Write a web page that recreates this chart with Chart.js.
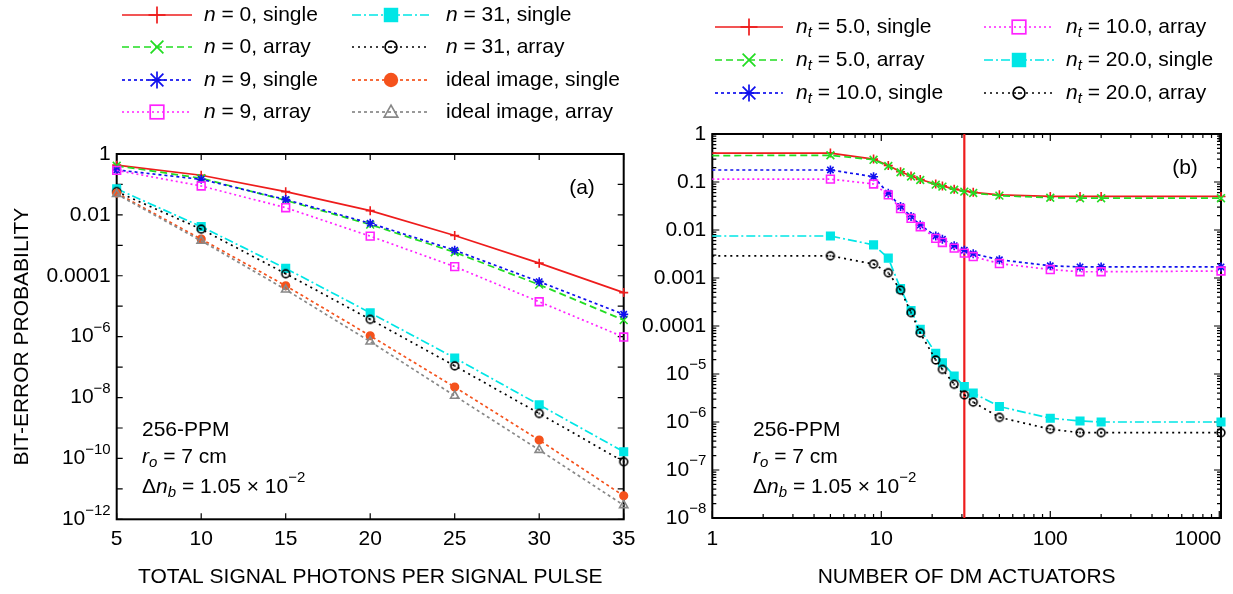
<!DOCTYPE html>
<html>
<head>
<meta charset="utf-8">
<script src="https://cdn.jsdelivr.net/npm/chart.js@4.4.1/dist/chart.umd.min.js"></script>
<style>
  body { margin: 0; background: #fff; }
  #wrap { position: relative; width: 1233px; height: 594px; }
  canvas { position: absolute; top: 0; }
</style>
</head>
<body>
<div id="wrap">
  <canvas id="left" width="640" height="594" style="left:0"></canvas>
  <canvas id="right" width="593" height="594" style="left:640px"></canvas>
</div>
<script>
// ---- data, panel (a): photons per pulse ----
const PHOTONS = [5, 10, 15, 20, 25, 30, 35];
const n0Single    = [0.43, 0.20, 0.058, 0.0138, 0.0021, 2.6e-4, 2.8e-5];
const n0Array     = [0.41, 0.16, 0.030, 0.0048, 5.9e-4, 5.1e-5, 3.5e-6];
const n9Single    = [0.30, 0.147, 0.032, 0.0053, 6.9e-4, 6.4e-5, 5.4e-6];
const n9Array     = [0.29, 0.089, 0.0172, 0.0020, 2.0e-4, 1.4e-5, 9.7e-7];
const n31Single   = [0.072, 0.0041, 1.75e-4, 6.1e-6, 2.0e-7, 5.8e-9, 1.66e-10];
const n31Array    = [0.058, 0.0034, 1.17e-4, 3.7e-6, 1.1e-7, 3.0e-9, 7.8e-11];
const idealSingle = [0.052, 0.0016, 4.7e-5, 1.07e-6, 2.2e-8, 4.0e-10, 5.9e-12];
const idealArray  = [0.048, 0.0014, 3.5e-5, 6.9e-7, 1.14e-8, 1.9e-10, 2.9e-12];

// ---- data, panel (b): number of DM actuators ----
const ACTUATORS = [1, 5, 9, 11, 13, 15, 17, 21, 23, 27, 31, 35, 50, 100, 150, 200, 1024];
const nt5Single  = [0.40, 0.40, 0.30, 0.22, 0.164, 0.133, 0.113, 0.091, 0.083, 0.071, 0.065, 0.061, 0.054, 0.050, 0.050, 0.050, 0.050];
const nt5Array   = [0.355, 0.36, 0.29, 0.215, 0.16, 0.13, 0.11, 0.088, 0.080, 0.069, 0.063, 0.059, 0.052, 0.047, 0.046, 0.046, 0.046];
const nt10Single = [0.178, 0.178, 0.129, 0.058, 0.031, 0.019, 0.0127, 0.0075, 0.0064, 0.0047, 0.0038, 0.0032, 0.0024, 0.0018, 0.0017, 0.0017, 0.0017];
const nt10Array  = [0.115, 0.115, 0.091, 0.054, 0.028, 0.0175, 0.0117, 0.0067, 0.0055, 0.0042, 0.0033, 0.0028, 0.0020, 0.0015, 0.00135, 0.00135, 0.0014];
const nt20Single = [0.0075, 0.0075, 0.0049, 0.0026, 6.0e-4, 2.1e-4, 8.5e-5, 2.7e-5, 1.72e-5, 9.1e-6, 5.5e-6, 4.0e-6, 2.1e-6, 1.2e-6, 1.05e-6, 1.0e-6, 1.0e-6];
const nt20Array  = [0.0029, 0.0029, 0.00195, 0.00129, 5.6e-4, 1.9e-4, 7.2e-5, 1.96e-5, 1.25e-5, 6.1e-6, 3.67e-6, 2.6e-6, 1.25e-6, 7.1e-7, 6.0e-7, 6.0e-7, 6.0e-7];
const MARK_X = 31; // vertical red line

// ---- ticks ----
const LEFT_X_TICKS = [5, 10, 15, 20, 25, 30, 35];
const LEFT_Y_TICKS = [1, 1e-2, 1e-4, 1e-6, 1e-8, 1e-10, 1e-12];
const LEFT_Y_LABELS = ['1', '0.01', '0.0001', '10^−6', '10^−8', '10^−10', '10^−12'];
const RIGHT_X_TICKS = [1, 10, 100, 1000];
const RIGHT_X_LABELS = ['1', '10', '100', '1000'];
const RIGHT_Y_TICKS = [1, 0.1, 0.01, 1e-3, 1e-4, 1e-5, 1e-6, 1e-7, 1e-8];
const RIGHT_Y_LABELS = ['1', '0.1', '0.01', '0.001', '0.0001', '10^−5', '10^−6', '10^−7', '10^−8'];

const FONT = "'Liberation Sans', Arial, Helvetica, sans-serif";
const FS = 21;

// line / marker styles
const ST = {
  red:     { color: '#ee1c1c', dash: [],           marker: 'plus' },
  green:   { color: '#22dd22', dash: [7, 4],       marker: 'x' },
  blue:    { color: '#1010ee', dash: [3, 3],       marker: 'star' },
  magenta: { color: '#ff22ff', dash: [2, 3],       marker: 'box' },
  cyan:    { color: '#00e6e6', dash: [9, 3, 2, 3], marker: 'boxf' },
  black:   { color: '#000000', dash: [2, 4],       marker: 'odot' },
  orange:  { color: '#f5521c', dash: [3, 3],       marker: 'dot' },
  gray:    { color: '#888888', dash: [3, 3],       marker: 'tri' }
};

function odotImage(color) {
  const c = document.createElement('canvas');
  c.width = 12; c.height = 12;
  const g = c.getContext('2d');
  g.strokeStyle = color; g.fillStyle = color; g.lineWidth = 1.6;
  g.beginPath(); g.arc(6, 6, 3.9, 0, Math.PI * 2); g.stroke();
  g.beginPath(); g.arc(6, 6, 0.9, 0, Math.PI * 2); g.fill();
  return c;
}

function pointOpts(st) {
  const m = st.marker;
  if (m === 'plus') return { pointStyle: 'cross', pointRadius: 4.5, pointBackgroundColor: st.color };
  if (m === 'x') return { pointStyle: 'crossRot', pointRadius: 5.5, pointBackgroundColor: st.color };
  if (m === 'star') return { pointStyle: 'star', pointRadius: 4.5, pointBackgroundColor: st.color };
  if (m === 'box') return { pointStyle: 'rect', pointRadius: 5.5, pointBackgroundColor: 'rgba(0,0,0,0)' };
  if (m === 'boxf') return { pointStyle: 'rect', pointRadius: 5.3, pointBackgroundColor: st.color };
  if (m === 'dot') return { pointStyle: 'circle', pointRadius: 3.8, pointBackgroundColor: st.color };
  if (m === 'tri') return { pointStyle: 'triangle', pointRadius: 4.8, pointBackgroundColor: 'rgba(0,0,0,0)' };
  return { pointStyle: odotImage(st.color), pointRadius: 4 };
}

function makeSet(xs, ys, st, idx, hideFirst) {
  const p = pointOpts(st);
  const r = p.pointRadius;
  return Object.assign({
    data: xs.map((x, i) => ({ x: x, y: ys[i] })),
    borderColor: st.color,
    borderWidth: 1.7,
    borderDash: st.dash,
    pointBorderColor: st.color,
    pointBorderWidth: 1.6,
    fill: false,
    tension: 0,
    clip: false,
    order: -idx
  }, p, { pointRadius: hideFirst ? (c => c.dataIndex === 0 ? 0 : r) : r });
}

// rich text: parts = [{t, i, s}] ; y is the middle line
function drawRich(ctx, x, y, parts, align, size) {
  size = size || FS;
  const small = Math.round(size * 0.7);
  ctx.save();
  ctx.textBaseline = 'middle';
  ctx.textAlign = 'left';
  ctx.fillStyle = '#000';
  const fontOf = p => (p.i ? 'italic ' : '') + (p.s ? small : size) + 'px ' + FONT;
  let total = 0;
  const ws = parts.map(p => { ctx.font = fontOf(p); const w = ctx.measureText(p.t).width; total += w; return w; });
  let cx = align === 'right' ? x - total : align === 'center' ? x - total / 2 : x;
  parts.forEach((p, k) => {
    ctx.font = fontOf(p);
    const dy = p.s === 'sub' ? size * 0.3 : p.s === 'sup' ? -size * 0.42 : 0;
    ctx.fillText(p.t, cx, y + dy);
    cx += ws[k];
  });
  ctx.restore();
}

function parseLabel(s) {
  const k = s.indexOf('^');
  if (k < 0) return [{ t: s }];
  return [{ t: s.slice(0, k) }, { t: s.slice(k + 1), s: 'sup' }];
}

function drawMarker(ctx, st, x, y, r) {
  ctx.save();
  ctx.setLineDash([]);
  ctx.strokeStyle = st.color; ctx.fillStyle = st.color; ctx.lineWidth = 1.7;
  const line = (a, b, c, d) => { ctx.beginPath(); ctx.moveTo(a, b); ctx.lineTo(c, d); ctx.stroke(); };
  const m = st.marker;
  if (m === 'plus' || m === 'star') { line(x - r, y, x + r, y); line(x, y - r, x, y + r); }
  if (m === 'x' || m === 'star') { const d = r * 0.75; line(x - d, y - d, x + d, y + d); line(x - d, y + d, x + d, y - d); }
  if (m === 'box') ctx.strokeRect(x - r * 0.8, y - r * 0.8, r * 1.6, r * 1.6);
  if (m === 'boxf') ctx.fillRect(x - r * 0.85, y - r * 0.85, r * 1.7, r * 1.7);
  if (m === 'dot') { ctx.beginPath(); ctx.arc(x, y, r * 0.85, 0, Math.PI * 2); ctx.fill(); }
  if (m === 'odot') {
    ctx.beginPath(); ctx.arc(x, y, r * 0.7, 0, Math.PI * 2); ctx.stroke();
    ctx.beginPath(); ctx.arc(x, y, 1.1, 0, Math.PI * 2); ctx.fill();
  }
  if (m === 'tri') {
    ctx.beginPath(); ctx.moveTo(x, y - r * 0.8); ctx.lineTo(x + r * 0.8, y + r * 0.6); ctx.lineTo(x - r * 0.8, y + r * 0.6); ctx.closePath(); ctx.stroke();
  }
  ctx.restore();
}

function drawLegend(ctx, items) {
  items.forEach(it => {
    ctx.save();
    ctx.strokeStyle = it.st.color; ctx.lineWidth = 1.7;
    ctx.setLineDash(it.st.dash);
    ctx.beginPath(); ctx.moveTo(it.x1, it.y); ctx.lineTo(it.x2, it.y); ctx.stroke();
    ctx.restore();
    drawMarker(ctx, it.st, (it.x1 + it.x2) / 2, it.y, 8.5);
    drawRich(ctx, it.tx, it.y, it.label, 'left');
  });
}

function decor(cfg) {
  return {
    id: 'decor',
    beforeDatasetsDraw(chart) {
      const ctx = chart.ctx, a = chart.chartArea;
      const sx = chart.scales.x, sy = chart.scales.y;
      ctx.save();
      ctx.strokeStyle = '#000';
      ctx.lineWidth = 1.2;
      cfg.xTicks().forEach(t => {
        const px = sx.getPixelForValue(t.v);
        ctx.beginPath();
        ctx.moveTo(px, a.bottom); ctx.lineTo(px, a.bottom - t.len);
        ctx.moveTo(px, a.top); ctx.lineTo(px, a.top + t.len);
        ctx.stroke();
      });
      cfg.yTicks().forEach(t => {
        const py = sy.getPixelForValue(t.v);
        ctx.beginPath();
        ctx.moveTo(a.left, py); ctx.lineTo(a.left + t.len, py);
        ctx.moveTo(a.right, py); ctx.lineTo(a.right - t.len, py);
        ctx.stroke();
      });
      ctx.lineWidth = 2;
      ctx.strokeRect(a.left, a.top, a.right - a.left, a.bottom - a.top);
      ctx.restore();
    },
    afterDraw(chart) {
      const ctx = chart.ctx, a = chart.chartArea;
      const sx = chart.scales.x, sy = chart.scales.y;
      const last = cfg.xLabels.length - 1;
      cfg.xLabels.forEach((s, i) => {
        const px = sx.getPixelForValue(cfg.xLabelVals[i]);
        // the last label would run off the canvas, keep it right-aligned on its tick
        if (cfg.lastRight && i === last) drawRich(ctx, px + 2, 539, parseLabel(s), 'right');
        else drawRich(ctx, px, 539, parseLabel(s), 'center');
      });
      cfg.yLabels.forEach((s, i) => drawRich(ctx, a.left - 6, sy.getPixelForValue(cfg.yLabelVals[i]), parseLabel(s), 'right'));
      drawRich(ctx, (a.left + a.right) / 2, 577, [{ t: cfg.xTitle }], 'center');
      if (cfg.yTitle) {
        ctx.save();
        ctx.translate(22, (a.top + a.bottom) / 2);
        ctx.rotate(-Math.PI / 2);
        drawRich(ctx, 0, 0, [{ t: cfg.yTitle }], 'center');
        ctx.restore();
      }
      drawRich(ctx, cfg.tag.x, cfg.tag.y, [{ t: cfg.tag.t }], 'center');
      const ax = cfg.noteX;
      drawRich(ctx, ax, 430, [{ t: '256-PPM' }], 'left');
      drawRich(ctx, ax, 457, [{ t: 'r', i: 1 }, { t: 'o', i: 1, s: 'sub' }, { t: ' = 7 cm' }], 'left');
      drawRich(ctx, ax, 487, [{ t: 'Δ' }, { t: 'n', i: 1 }, { t: 'b', i: 1, s: 'sub' }, { t: ' = 1.05 × 10' }, { t: '−2', s: 'sup' }], 'left');
      drawLegend(ctx, cfg.legend);
    }
  };
}

function baseOptions(xScale, yMin, pad, yWidth, xHeight) {
  return {
    responsive: false,
    animation: false,
    devicePixelRatio: 1,
    layout: { padding: pad, autoPadding: false },
    plugins: { legend: { display: false }, tooltip: { enabled: false } },
    events: [],
    scales: {
      x: Object.assign({
        grid: { display: false, drawTicks: false },
        border: { display: false },
        ticks: { display: false },
        afterFit: s => { s.height = xHeight; }
      }, xScale),
      y: {
        type: 'logarithmic', min: yMin, max: 1,
        grid: { display: false, drawTicks: false },
        border: { display: false },
        ticks: { display: false },
        afterFit: s => { s.width = yWidth; }
      }
    }
  };
}

// ---------- panel (a) ----------
const nLbl = v => [{ t: 'n', i: 1 }, { t: ' = ' + v }];
const leftSets = [
  [n0Single, ST.red], [n0Array, ST.green], [n9Single, ST.blue], [n9Array, ST.magenta],
  [n31Single, ST.cyan], [n31Array, ST.black], [idealSingle, ST.orange], [idealArray, ST.gray]
].map((d, i) => makeSet(PHOTONS, d[0], d[1], i, false));

const LROWS = [15, 47, 80, 112];
const leftLegend = [
  { st: ST.red, label: nLbl('0, single') }, { st: ST.green, label: nLbl('0, array') },
  { st: ST.blue, label: nLbl('9, single') }, { st: ST.magenta, label: nLbl('9, array') },
  { st: ST.cyan, label: nLbl('31, single') }, { st: ST.black, label: nLbl('31, array') },
  { st: ST.orange, label: [{ t: 'ideal image, single' }] }, { st: ST.gray, label: [{ t: 'ideal image, array' }] }
].map((e, i) => Object.assign(e, i < 4
  ? { x1: 122, x2: 192, tx: 204, y: LROWS[i] }
  : { x1: 352, x2: 430, tx: 446, y: LROWS[i - 4] }));

new Chart(document.getElementById('left'), {
  type: 'line',
  data: { datasets: leftSets },
  options: baseOptions({ type: 'linear', min: 5, max: 35 }, 1e-12,
    { left: 0, top: 154, right: 16.3, bottom: 0 }, 116.7, 74.7),
  plugins: [decor({
    xTicks: () => LEFT_X_TICKS.map(v => ({ v: v, len: 6 })),
    yTicks: () => [0, -1, -2, -3, -4, -5, -6, -7, -8, -9, -10, -11, -12].map(k => ({ v: Math.pow(10, k), len: 6 })),
    xLabels: LEFT_X_TICKS.map(String), xLabelVals: LEFT_X_TICKS,
    yLabels: LEFT_Y_LABELS, yLabelVals: LEFT_Y_TICKS,
    xTitle: 'TOTAL SIGNAL PHOTONS PER SIGNAL PULSE',
    yTitle: 'BIT-ERROR PROBABILITY',
    tag: { t: '(a)', x: 582, y: 188 },
    noteX: 142,
    legend: leftLegend
  })]
});

// ---------- panel (b) ----------
const OFF = 640;
const ntLbl = v => [{ t: 'n', i: 1 }, { t: 't', i: 1, s: 'sub' }, { t: ' = ' + v }];
const rightSets = [
  [nt5Single, ST.red], [nt5Array, ST.green], [nt10Single, ST.blue],
  [nt10Array, ST.magenta], [nt20Single, ST.cyan], [nt20Array, ST.black]
].map((d, i) => makeSet(ACTUATORS, d[0], d[1], i, true));
rightSets.push({
  data: [{ x: MARK_X, y: 1e-8 }, { x: MARK_X, y: 1 }],
  borderColor: '#ee1c1c', borderWidth: 2.2, pointRadius: 0, order: 100
});

const RROWS = [27, 60, 93];
const rightLegend = [
  { st: ST.red, label: ntLbl('5.0, single') }, { st: ST.green, label: ntLbl('5.0, array') },
  { st: ST.blue, label: ntLbl('10.0, single') }, { st: ST.magenta, label: ntLbl('10.0, array') },
  { st: ST.cyan, label: ntLbl('20.0, single') }, { st: ST.black, label: ntLbl('20.0, array') }
].map((e, i) => Object.assign(e, i < 3
  ? { x1: 715 - OFF, x2: 783 - OFF, tx: 796 - OFF, y: RROWS[i] }
  : { x1: 984 - OFF, x2: 1054 - OFF, tx: 1066 - OFF, y: RROWS[i - 3] }));

const logMinor = (lo, hi, maxV) => {
  const out = [];
  for (let k = lo; k <= hi; k++) for (let m = 1; m <= 9; m++) {
    const v = m * Math.pow(10, k);
    if (v <= maxV * 1.0001) out.push({ v: v, len: m === 1 ? 7 : 4 });
  }
  return out;
};

new Chart(document.getElementById('right'), {
  type: 'line',
  data: { datasets: rightSets },
  options: baseOptions({ type: 'logarithmic', min: 1, max: 1024 }, 1e-8,
    { left: 0, top: 134, right: 12, bottom: 0 }, 72.3, 76),
  plugins: [decor({
    xTicks: () => logMinor(0, 3, 1024),
    yTicks: () => logMinor(-8, 0, 1),
    xLabels: RIGHT_X_LABELS, xLabelVals: RIGHT_X_TICKS,
    yLabels: RIGHT_Y_LABELS, yLabelVals: RIGHT_Y_TICKS,
    lastRight: true,
    xTitle: 'NUMBER OF DM ACTUATORS',
    yTitle: null,
    tag: { t: '(b)', x: 1185 - OFF, y: 168 },
    noteX: 753 - OFF,
    legend: rightLegend
  })]
});
</script>
</body>
</html>
